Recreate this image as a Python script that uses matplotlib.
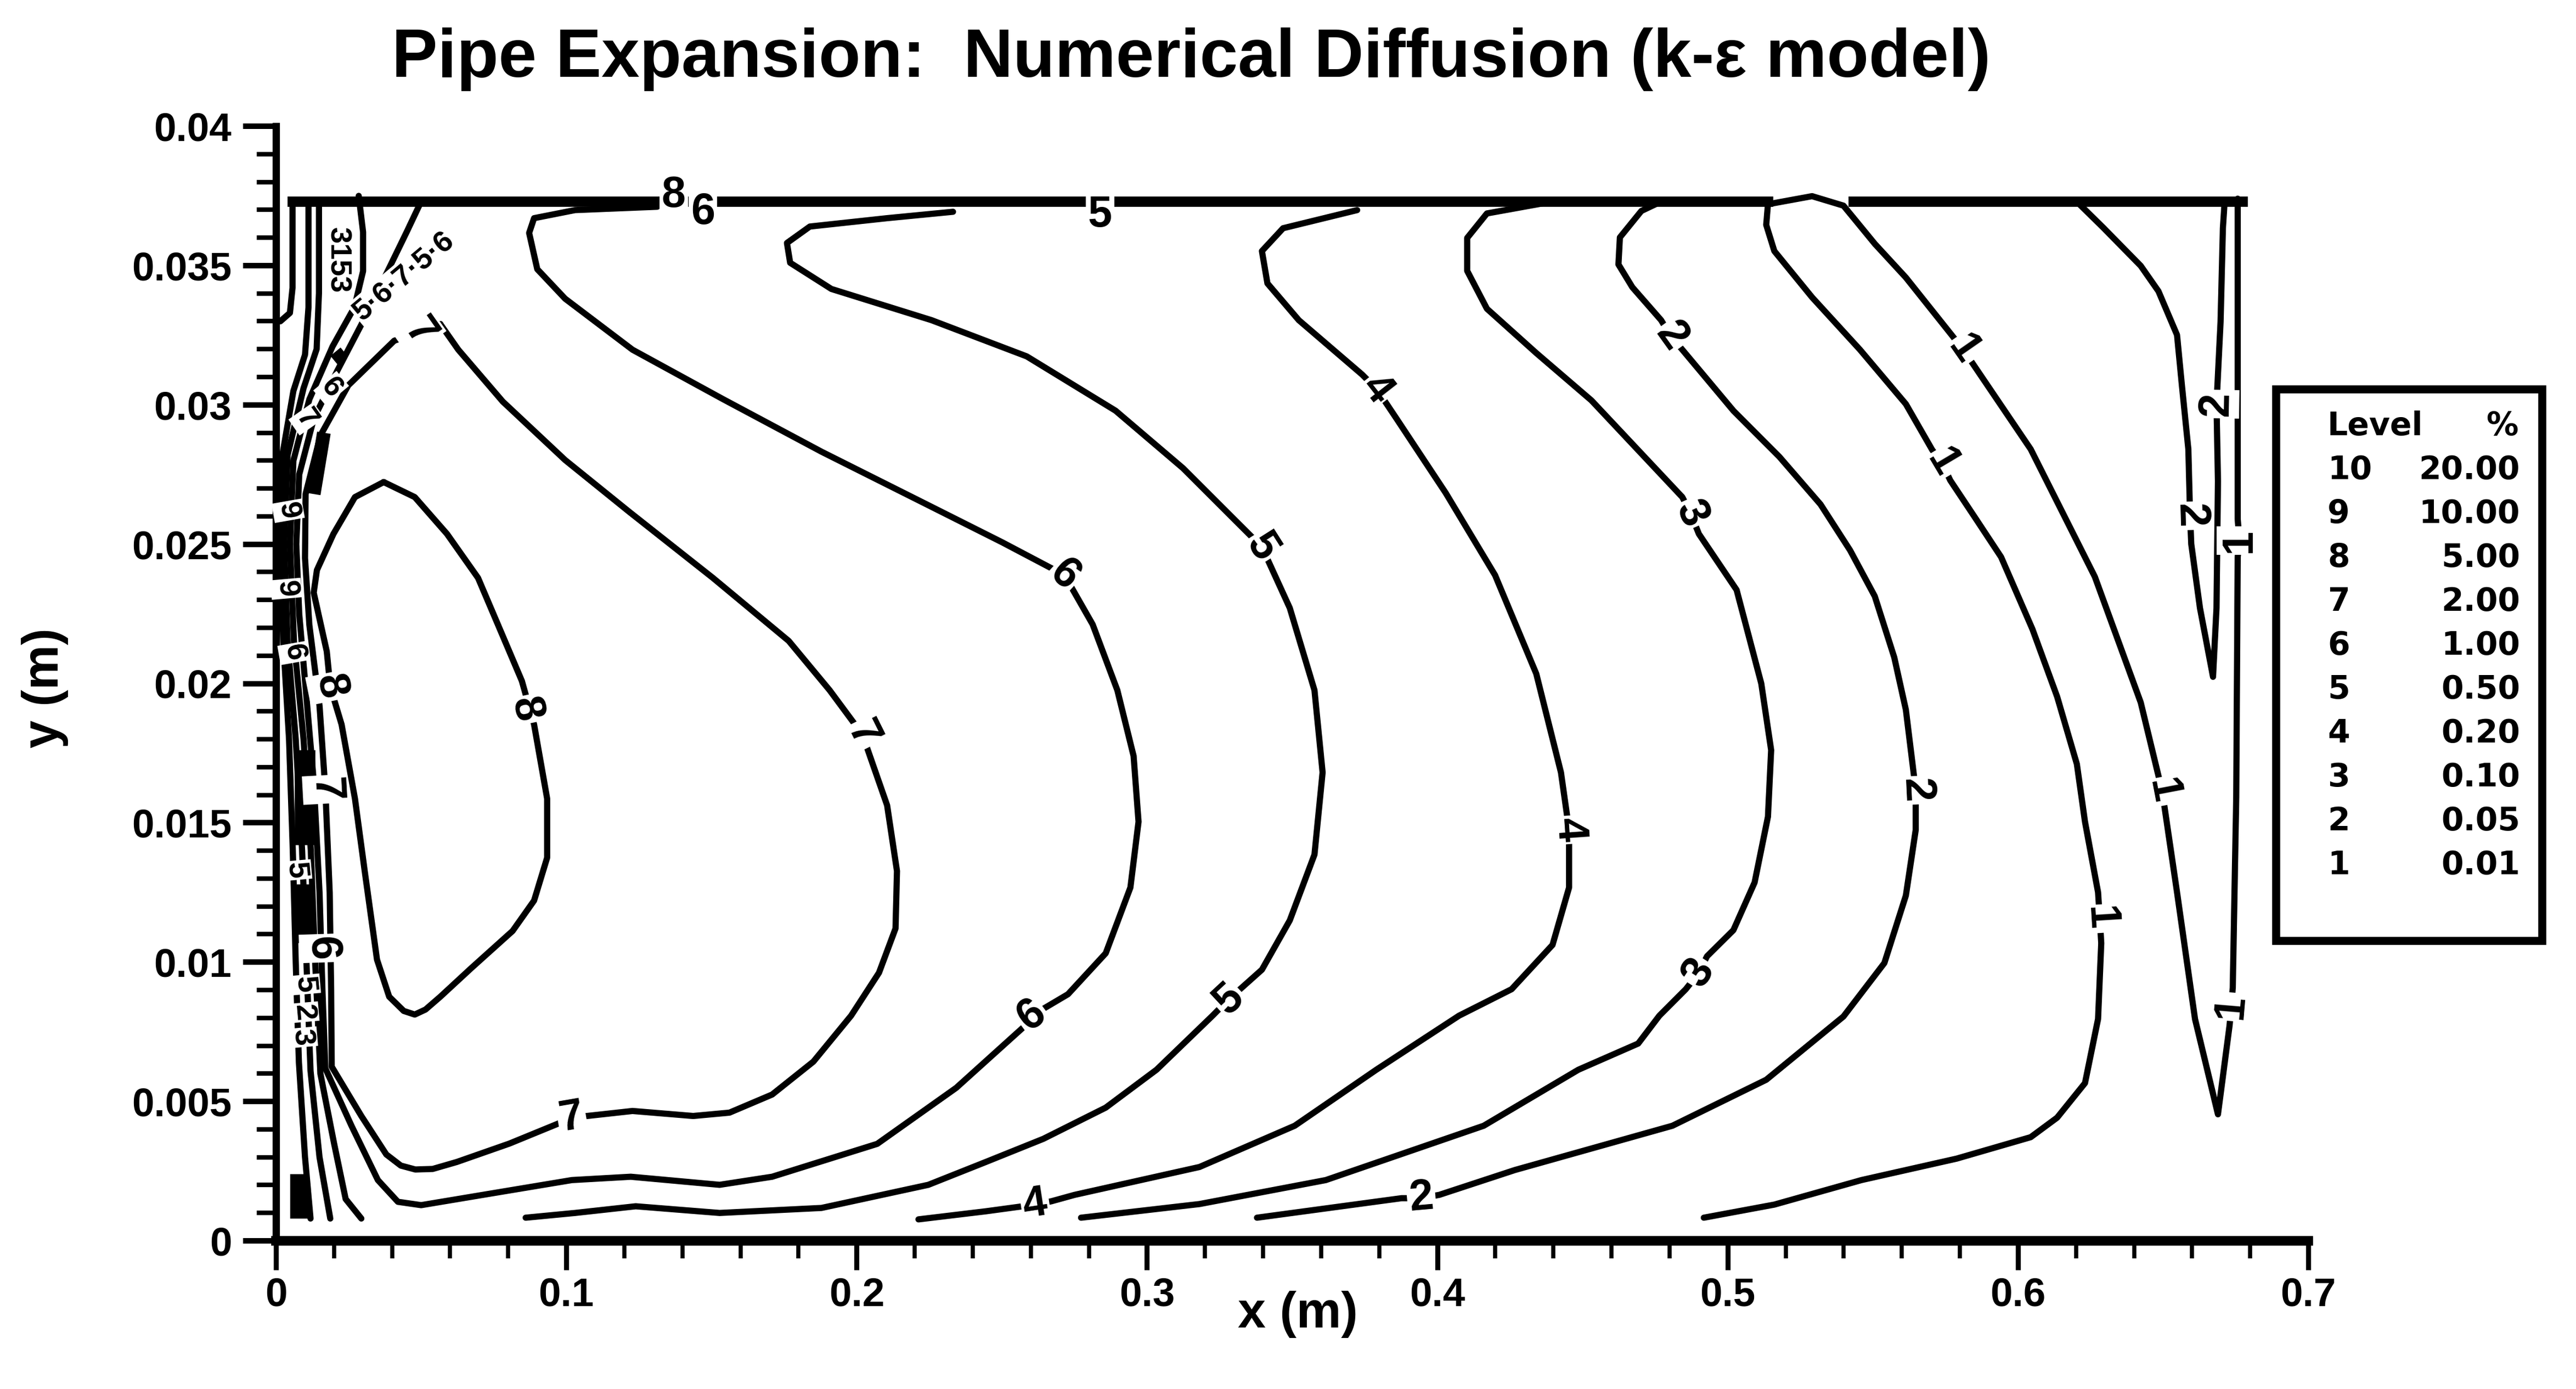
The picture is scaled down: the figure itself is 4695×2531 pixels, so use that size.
import numpy as np
import matplotlib.pyplot as plt
from matplotlib import font_manager

plt.rcParams['font.family'] = ['Liberation Sans', 'DejaVu Sans']

# ---- contour lines, (x [m], y [m]) ----
c8_loop = [(0.0371, 0.02723), (0.0478, 0.02669), (0.0589, 0.02537), (0.0696, 0.02379),
           (0.0781, 0.02171), (0.0847, 0.02009), (0.0889, 0.01853), (0.0934, 0.01587),
           (0.0934, 0.01375), (0.0889, 0.01221), (0.0815, 0.01112), (0.0673, 0.00979),
           (0.0566, 0.00876), (0.0515, 0.00830), (0.0478, 0.00812), (0.0440, 0.00825),
           (0.0390, 0.00876), (0.0348, 0.01009),
           (0.0306, 0.01324), (0.0272, 0.01587), (0.0226, 0.01853), (0.0187, 0.01988),
           (0.0175, 0.02115), (0.0130, 0.02326), (0.0141, 0.02407), (0.0198, 0.02537),
           (0.0272, 0.02669), (0.0371, 0.02723)]

c7 = [(0.0566, 0.03290), (0.0628, 0.03198), (0.0781, 0.03012), (0.0996, 0.02802),
      (0.1217, 0.02616), (0.1505, 0.02379), (0.1766, 0.02153), (0.1907, 0.01976),
      (0.2020, 0.01817), (0.2105, 0.01563), (0.2139, 0.01327), (0.2134, 0.01121),
      (0.2077, 0.00962), (0.1981, 0.00808), (0.1851, 0.00643), (0.1709, 0.00525),
      (0.1562, 0.00460), (0.1437, 0.00448), (0.1228, 0.00466), (0.1019, 0.00442),
      (0.0968, 0.00419), (0.0804, 0.00349), (0.0623, 0.00283), (0.0540, 0.00258),
      (0.0480, 0.00256), (0.0430, 0.00270),
      (0.0380, 0.00310), (0.0294, 0.00448), (0.0192, 0.00625), (0.0190, 0.00900),
      (0.0185, 0.01250), (0.0170, 0.01620), (0.0150, 0.01920), (0.0115, 0.02210),
      (0.0100, 0.02450), (0.0102, 0.02680), (0.0153, 0.02890), (0.0249, 0.03070),
      (0.0407, 0.03230), (0.0566, 0.03290)]

c6 = [(0.1313, 0.03711), (0.1030, 0.03699), (0.0889, 0.03670), (0.0872, 0.03617),
      (0.0900, 0.03487), (0.0996, 0.03381), (0.1228, 0.03198), (0.1539, 0.03021),
      (0.1879, 0.02832), (0.2218, 0.02655), (0.2501, 0.02507), (0.2716, 0.02389),
      (0.2813, 0.02212), (0.2898, 0.01976), (0.2954, 0.01740), (0.2971, 0.01504),
      (0.2943, 0.01268), (0.2858, 0.01032), (0.2728, 0.00885), (0.2603, 0.00808),
      (0.2575, 0.00767), (0.2343, 0.00549), (0.2071, 0.00348), (0.1709, 0.00230),
      (0.1528, 0.00201), (0.1222, 0.00230), (0.1019, 0.00218), (0.0713, 0.00165),
      (0.0500, 0.00128), (0.0420, 0.00140), (0.0351, 0.00218), (0.0260, 0.00413),
      (0.0170, 0.00619),
      (0.0160, 0.00900), (0.0150, 0.01250), (0.0130, 0.01650), (0.0105, 0.01950),
      (0.0080, 0.02250), (0.0070, 0.02500), (0.0080, 0.02750), (0.0130, 0.02950),
      (0.0210, 0.03120), (0.0300, 0.03300), (0.0380, 0.03470), (0.0450, 0.03620),
      (0.0500, 0.03730)]

c5 = [(0.2332, 0.03693), (0.2105, 0.03670), (0.1839, 0.03640), (0.1760, 0.03581),
      (0.1771, 0.03510), (0.1913, 0.03416), (0.2258, 0.03304), (0.2586, 0.03174),
      (0.2892, 0.02979), (0.3124, 0.02773), (0.3294, 0.02596), (0.3396, 0.02490),
      (0.3492, 0.02271), (0.3577, 0.01976), (0.3605, 0.01681), (0.3577, 0.01386),
      (0.3492, 0.01150), (0.3396, 0.00973), (0.3282, 0.00867), (0.3226, 0.00808),
      (0.3033, 0.00614), (0.2858, 0.00478), (0.2643, 0.00366), (0.2445, 0.00283),
      (0.2247, 0.00201), (0.1879, 0.00118), (0.1528, 0.00100), (0.1239, 0.00124),
      (0.1030, 0.00100), (0.0860, 0.00083)]

c5_wall = [(0.0294, 0.0008), (0.0240, 0.0015), (0.0200, 0.0035), (0.0153, 0.0060),
           (0.0135, 0.0100), (0.0120, 0.0140), (0.0095, 0.0180), (0.0062, 0.0215),
           (0.0048, 0.0250), (0.0060, 0.0280), (0.0115, 0.0302), (0.0195, 0.0321),
           (0.0270, 0.0335), (0.0300, 0.0348), (0.0300, 0.0362), (0.0285, 0.0375)]

c4 = [(0.3724, 0.03699), (0.3469, 0.03634), (0.3396, 0.03552), (0.3415, 0.03436),
      (0.3523, 0.03304), (0.3741, 0.03109), (0.3792, 0.03056), (0.3860, 0.02950),
      (0.4029, 0.02684), (0.4199, 0.02389), (0.4341, 0.02035), (0.4426, 0.01681),
      (0.4454, 0.01475), (0.4454, 0.01268), (0.4397, 0.01062), (0.4256, 0.00903),
      (0.4075, 0.00808), (0.3790, 0.00614), (0.3509, 0.00413), (0.3181, 0.00265),
      (0.2751, 0.00165), (0.2671, 0.00142), (0.2615, 0.00130), (0.2445, 0.00106),
      (0.2213, 0.00077)]

c4_wall = [(0.0187, 0.0008), (0.0150, 0.0030), (0.0119, 0.0061), (0.0105, 0.0100),
           (0.0090, 0.0140), (0.0068, 0.0180), (0.0040, 0.0215), (0.0028, 0.0250),
           (0.0040, 0.0282), (0.0095, 0.0306), (0.0140, 0.0320), (0.0148, 0.0340),
           (0.0148, 0.0373)]

c3 = [(0.4426, 0.03735), (0.4171, 0.03687), (0.4103, 0.03599), (0.4103, 0.03481),
      (0.4171, 0.03345), (0.4341, 0.03186), (0.4531, 0.03016), (0.4844, 0.02669),
      (0.4873, 0.02610), (0.4901, 0.02537), (0.5031, 0.02336), (0.5116, 0.02000),
      (0.5150, 0.01761), (0.5139, 0.01522), (0.5093, 0.01286), (0.5020, 0.01115),
      (0.4929, 0.01021), (0.4901, 0.00962), (0.4856, 0.00903), (0.4765, 0.00808),
      (0.4692, 0.00708), (0.4486, 0.00614), (0.4160, 0.00413), (0.3616, 0.00218),
      (0.3181, 0.00132), (0.2773, 0.00083)]

c3_wall = [(0.0119, 0.0008), (0.0100, 0.0030), (0.0079, 0.0064), (0.0068, 0.0100),
           (0.0058, 0.0140), (0.0045, 0.0180), (0.0025, 0.0215), (0.0015, 0.0250),
           (0.0022, 0.0282), (0.0060, 0.0305), (0.0100, 0.0318), (0.0112, 0.0335),
           (0.0112, 0.0373)]

c_corner = [(0.0015, 0.0330), (0.0048, 0.0333), (0.0057, 0.0342), (0.0057, 0.0373)]

c2 = [(0.4782, 0.03735), (0.4703, 0.03696), (0.4629, 0.03601), (0.4624, 0.03504),
      (0.4672, 0.03422), (0.4771, 0.03304), (0.4805, 0.03245), (0.4844, 0.03198),
      (0.5020, 0.02979), (0.5178, 0.02814), (0.5320, 0.02643), (0.5422, 0.02478),
      (0.5507, 0.02313), (0.5574, 0.02094), (0.5614, 0.01906), (0.5637, 0.01711),
      (0.5648, 0.01617), (0.5648, 0.01475), (0.5614, 0.01239), (0.5540, 0.00997),
      (0.5399, 0.00805), (0.5133, 0.00578), (0.4810, 0.00413), (0.4267, 0.00254),
      (0.4007, 0.00165), (0.3945, 0.00153), (0.3877, 0.00153), (0.3379, 0.00083)]

c2_right = [(0.6203, 0.03729), (0.6293, 0.03637), (0.6423, 0.03499), (0.6484, 0.03408),
            (0.6548, 0.03251), (0.6565, 0.03068), (0.6587, 0.02841), (0.6593, 0.02602),
            (0.6597, 0.02501), (0.6627, 0.02271), (0.6672, 0.02024), (0.6684, 0.02271),
            (0.6689, 0.02726), (0.6684, 0.03003), (0.6698, 0.03298), (0.6706, 0.03634),
            (0.6712, 0.03729)]

c1 = [(0.4918, 0.00083), (0.5161, 0.00130), (0.5461, 0.00218), (0.5789, 0.00295),
      (0.6044, 0.00372), (0.6135, 0.00442), (0.6231, 0.00566), (0.6276, 0.00796),
      (0.6287, 0.01068), (0.6282, 0.01156), (0.6276, 0.01251), (0.6231, 0.01504),
      (0.6203, 0.01711), (0.6135, 0.01953), (0.6050, 0.02195), (0.5942, 0.02454),
      (0.5852, 0.02596), (0.5767, 0.02729), (0.5739, 0.02791), (0.5705, 0.02838),
      (0.5614, 0.03003), (0.5456, 0.03198), (0.5291, 0.03386), (0.5161, 0.03552),
      (0.5133, 0.03646), (0.5139, 0.03720), (0.5291, 0.03749), (0.5399, 0.03715),
      (0.5433, 0.03672), (0.5507, 0.03578), (0.5614, 0.03457), (0.5767, 0.03257),
      (0.5812, 0.03198), (0.6044, 0.02841), (0.6265, 0.02383), (0.6423, 0.01932),
      (0.6497, 0.01613), (0.6548, 0.01251), (0.6610, 0.00796), (0.6689, 0.00454),
      (0.6729, 0.00773), (0.6735, 0.00840), (0.6740, 0.00909), (0.6752, 0.01593),
      (0.6757, 0.02454), (0.6763, 0.02513), (0.6757, 0.02590), (0.6757, 0.03740)]

# upper wall, where many contours pile up
wall_y = 0.0373
wall_left_x = [0.0057, 0.5139]
wall_right_x = [0.5433, 0.6774]

# dark patches near the inlet wall (stacked contours)
dense_x = [0.0100, 0.0099, 0.0130, 0.0200, 0.0079]
dense_y0 = [0.0142, 0.0107, 0.0268, 0.0316, 0.0008]
dense_x1 = [0.0100, 0.0099, 0.0165, 0.0235, 0.0079]
dense_y1 = [0.0176, 0.0128, 0.0290, 0.0319, 0.0024]
dense_w = [9, 7, 6, 5, 8]

contours = {8: [c8_loop], 7: [c7], 6: [c6], 5: [c5, c5_wall], 4: [c4, c4_wall],
            3: [c3, c3_wall, c_corner], 2: [c2, c2_right], 1: [c1]}

# contour labels: (level, x, y)
line_labels = [(8, 0.0860, 0.01906), (8, 0.0187, 0.01988),
               (7, 0.2020, 0.01817), (7, 0.1019, 0.00442), (7, 0.0170, 0.0162), (7, 0.0495, 0.0326),
               (6, 0.2716, 0.02389), (6, 0.2603, 0.00808), (6, 0.0158, 0.0105),
               (5, 0.3396, 0.02490), (5, 0.3282, 0.00867),
               (4, 0.3792, 0.03056), (4, 0.4454, 0.01475), (4, 0.2615, 0.00130),
               (3, 0.4873, 0.02610), (3, 0.4901, 0.00962),
               (2, 0.4805, 0.03245), (2, 0.5648, 0.01617), (2, 0.3945, 0.00153),
               (2, 0.6593, 0.02602), (2, 0.6684, 0.03003),
               (1, 0.5739, 0.02791), (1, 0.6282, 0.01156), (1, 0.5812, 0.03198),
               (1, 0.6497, 0.01613), (1, 0.6735, 0.00840), (1, 0.6763, 0.02513)]

# labels sitting on the wall / crammed near the inlet: (text, x, y, angle)
wall_labels = [("8", 0.1370, 0.0375, 0), ("6", 0.1471, 0.0369, 0), ("5", 0.2838, 0.0368, 0),
               ("3153", 0.0212, 0.0352, -90), ("5·6·7·5·6", 0.0440, 0.0346, 40),
               ("9", 0.0042, 0.0262, -80), ("7", 0.0105, 0.0295, -55), ("6", 0.0190, 0.0306, -50),
               ("9", 0.0035, 0.0234, -85), ("6", 0.0062, 0.0211, -80),
               ("5", 0.0070, 0.0133, -85), ("5", 0.0100, 0.0092, -85), ("2", 0.0095, 0.0082, -85),
               ("3", 0.0090, 0.0073, -85)]

# legend table
legend_levels = [10, 9, 8, 7, 6, 5, 4, 3, 2, 1]
legend_pct = ["20.00", "10.00", "5.00", "2.00", "1.00", "0.50", "0.20", "0.10", "0.05", "0.01"]

x_ticks = [0, 0.1, 0.2, 0.3, 0.4, 0.5, 0.6, 0.7]
x_tick_labels = ["0", "0.1", "0.2", "0.3", "0.4", "0.5", "0.6", "0.7"]
y_ticks = [0, 0.005, 0.01, 0.015, 0.02, 0.025, 0.03, 0.035, 0.04]
y_tick_labels = ["0", "0.005", "0.01", "0.015", "0.02", "0.025", "0.03", "0.035", "0.04"]

# narrow bold face for the axis numbers when it is installed
installed = {f.name for f in font_manager.fontManager.ttflist}
if "Liberation Sans Narrow" in installed:
    tick_family, tick_size = "Liberation Sans Narrow", 20
else:
    tick_family, tick_size = "Liberation Sans", 17.5

W, H = 4695, 2531
fig = plt.figure(figsize=(W / 300, H / 300), dpi=300)
ax = fig.add_axes([503 / W, 1 - 2261 / H, (4207 - 503) / W, (2261 - 230) / H])
ax.set_xlim(0, 0.7)
ax.set_ylim(0, 0.04)

for side in ["top", "right"]:
    ax.spines[side].set_visible(False)
ax.spines["left"].set_linewidth(3.2)
ax.spines["bottom"].set_linewidth(4.2)

ax.set_xticks(x_ticks)
ax.set_xticklabels(x_tick_labels)
ax.set_yticks(y_ticks)
ax.set_yticklabels(y_tick_labels)
ax.set_xticks(np.arange(0, 0.7001, 0.02), minor=True)
ax.set_yticks(np.arange(0, 0.04001, 0.001), minor=True)
ax.tick_params(axis="x", which="major", direction="out", length=12.7, width=2.2, pad=3)
ax.tick_params(axis="x", which="minor", direction="out", length=7.7, width=1.8)
ax.tick_params(axis="y", which="major", direction="out", length=14.4, width=2.4, pad=5)
ax.tick_params(axis="y", which="minor", direction="out", length=8.4, width=2.0)
for lab in ax.get_xticklabels() + ax.get_yticklabels():
    lab.set_fontweight("bold")
    lab.set_family(tick_family)
    lab.set_fontsize(tick_size)

# contour lines
for lev, lines in contours.items():
    for pts in lines:
        p = np.array(pts)
        ax.plot(p[:, 0], p[:, 1], color="black", lw=2.7, solid_capstyle="round",
                solid_joinstyle="round", zorder=2)

ax.plot(wall_left_x, [wall_y, wall_y], color="black", lw=4.5, zorder=2)
ax.plot(wall_right_x, [wall_y, wall_y], color="black", lw=4.5, zorder=2)

for x0, y0, x1, y1, w in zip(dense_x, dense_y0, dense_x1, dense_y1, dense_w):
    ax.plot([x0, x1], [y0, y1], color="black", lw=w, solid_capstyle="butt", zorder=2)

box = dict(boxstyle="square,pad=0.05", fc="white", ec="none")


def put_label(lev, x, y):
    best = None
    q = ax.transData.transform((x, y))
    for pts in contours[lev]:
        P = ax.transData.transform(np.array(pts))
        d = np.hypot(P[:, 0] - q[0], P[:, 1] - q[1])
        i = int(np.argmin(d))
        if best is None or d[i] < best[0]:
            best = (d[i], P, i)
    _, P, i = best
    a = P[max(i - 1, 0)]
    b = P[min(i + 1, len(P) - 1)]
    ang = np.degrees(np.arctan2(b[1] - a[1], b[0] - a[0]))
    if ang > 90:
        ang -= 180
    if ang < -90:
        ang += 180
    ax.text(x, y, str(lev), rotation=ang, rotation_mode="anchor", ha="center", va="center",
            fontsize=19, fontweight="bold", bbox=box, zorder=3)


for lev, x, y in line_labels:
    put_label(lev, x, y)

for txt, x, y, ang in wall_labels:
    fs = 19 if ang == 0 else 13
    ax.text(x, y, txt, rotation=ang, rotation_mode="anchor", ha="center", va="center",
            fontsize=fs, fontweight="bold", bbox=box, zorder=3)

# titles
fig.text(2171 / W, 1 - 140 / H, "Pipe Expansion:  Numerical Diffusion (k-ε model)",
         ha="center", va="baseline", fontsize=30, fontweight="bold")
fig.text(2365 / W, 1 - 2395 / H, "x (m)", ha="center", va="center", fontsize=22, fontweight="bold")
fig.text(82 / W, 1 - 1254 / H, "y (m)", ha="center", va="center", rotation=90,
         fontsize=22, fontweight="bold")

# level table at the right
fig.patches.append(plt.Rectangle((4148 / W, 1 - 1714 / H), (4633 - 4148) / W, (1714 - 709) / H,
                                 transform=fig.transFigure, fill=False, ec="black", lw=3.5))
lkw = dict(fontsize=14, fontweight="bold", family=["DejaVu Sans"], va="center")
fig.text(4242 / W, 1 - 776 / H, "Level", ha="left", **lkw)
fig.text(4590 / W, 1 - 776 / H, "%", ha="right", **lkw)
for i, (lv, pc) in enumerate(zip(legend_levels, legend_pct)):
    yy = 1 - (857 + 79.9 * i) / H
    fig.text(4242 / W, yy, str(lv), ha="left", **lkw)
    fig.text(4593 / W, yy, pc, ha="right", **lkw)

fig.savefig("out.png", dpi=300, facecolor="white")
